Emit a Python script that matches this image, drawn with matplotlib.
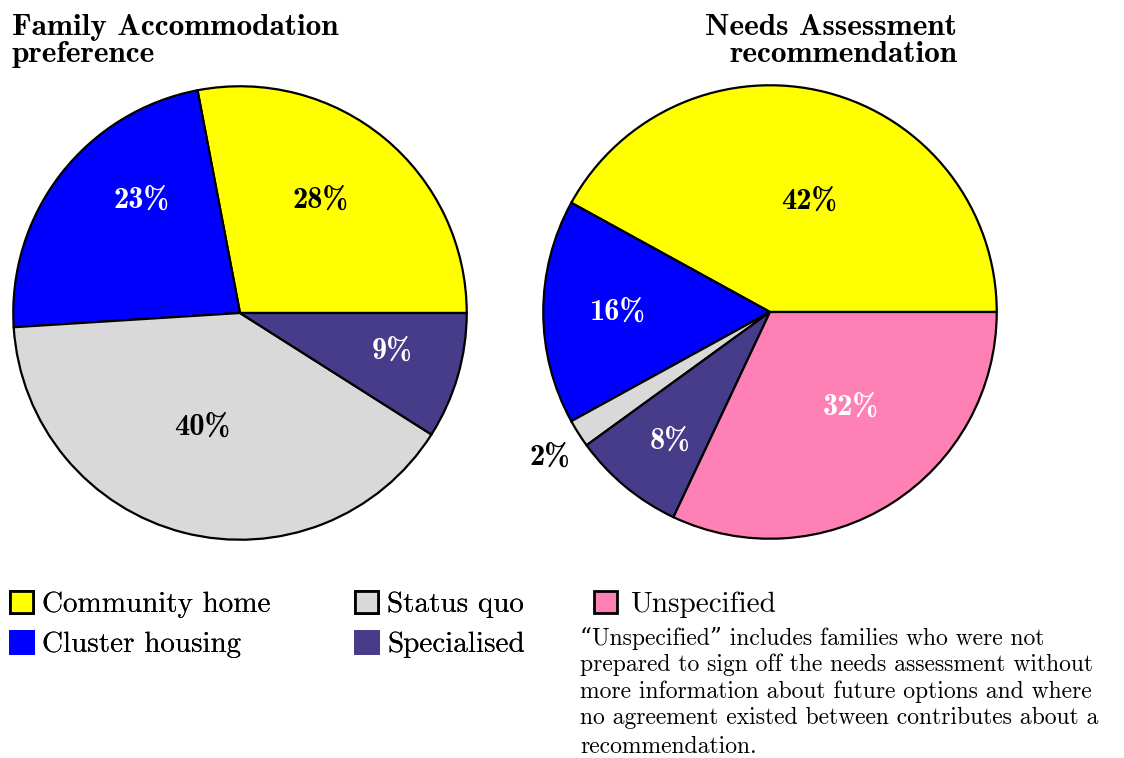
import numpy as np
import matplotlib
matplotlib.use("Agg")
import matplotlib.pyplot as plt
from matplotlib.patches import Patch

plt.rcParams["font.family"] = ["cmr10", "DejaVu Serif"]
plt.rcParams["axes.formatter.use_mathtext"] = True
plt.rcParams["mathtext.fontset"] = "cm"

# data
categories = ["Community home", "Cluster housing", "Status quo", "Specialised", "Unspecified"]
colors = {
    "Community home": "#FFFF00",
    "Cluster housing": "#0000FF",
    "Status quo": "#D9D9D9",
    "Specialised": "#463C8A",
    "Unspecified": "#FF80B4",
}
family_cats = ["Community home", "Cluster housing", "Status quo", "Specialised"]
family_vals = [28, 23, 40, 9]
needs_cats = ["Community home", "Cluster housing", "Status quo", "Specialised", "Unspecified"]
needs_vals = [42, 16, 2, 8, 32]

family_title = "Family Accommodation\npreference"
needs_title = "Needs Assessment\nrecommendation"
note = ("\u201cUnspecified\u201d includes families who were not\n"
        "prepared to sign off the needs assessment without\n"
        "more information about future options and where\n"
        "no agreement existed between contributes about a")
note_last = "recommendation."

# label colour, radial distance and angle nudge (deg) per wedge
label_color = {"Community home": "black", "Cluster housing": "white", "Status quo": "black",
               "Specialised": "white", "Unspecified": "white"}
family_dist = [0.61, 0.66, 0.53, 0.69]
family_nudge = [4, -11, -4, 2]
needs_dist = [0.52, 0.67, 1.165, 0.72, 0.55]
needs_nudge = [-5, 0, 1, 2, 8]

W, H = 1124, 758
fig = plt.figure(figsize=(W / 100, H / 100), dpi=100)


def draw_pie(rect, cats, vals, dists, nudges):
    ax = fig.add_axes(rect)
    wedges, _ = ax.pie(vals, colors=[colors[c] for c in cats], startangle=0, counterclock=True,
                       wedgeprops=dict(edgecolor="black", linewidth=1.6))
    for w, c, v, d, n in zip(wedges, cats, vals, dists, nudges):
        mid = np.deg2rad((w.theta1 + w.theta2) / 2 + n)
        col = label_color[c] if d < 1 else "black"
        ax.text(d * np.cos(mid), d * np.sin(mid), f"{v}%", ha="center", va="center",
                fontsize=22, family="cmb10", color=col, clip_on=False)
    ax.set_xlim(-1.01, 1.01)
    ax.set_ylim(-1.01, 1.01)
    ax.set_aspect("equal")
    ax.axis("off")
    return ax


draw_pie([11 / W, (H - 542) / H, 458 / W, 458 / H], family_cats, family_vals,
         family_dist, family_nudge)
draw_pie([541 / W, (H - 541) / H, 458 / W, 458 / H], needs_cats, needs_vals,
         needs_dist, needs_nudge)

fig.text(12 / W, 1 - 14 / H, family_title, ha="left", va="top", fontsize=22.5,
         family="cmb10", linespacing=1.0)
fig.text(957 / W, 1 - 14 / H, needs_title, ha="right", va="top", fontsize=22.5,
         family="cmb10", linespacing=1.0, multialignment="right")

edged = {"Community home", "Status quo", "Unspecified"}


def handle(c):
    ec = "black" if c in edged else colors[c]
    return Patch(facecolor=colors[c], edgecolor=ec, linewidth=2, label=c)


leg1 = fig.legend(handles=[handle(c) for c in categories[:4]], loc="upper left",
                  bbox_to_anchor=(10 / W, 1 - 591 / H), ncol=2, frameon=False, fontsize=21,
                  borderpad=0, handlelength=0.8, handleheight=0.8, handletextpad=0.3,
                  labelspacing=0.42, columnspacing=2.9, borderaxespad=0)
fig.add_artist(leg1)
fig.legend(handles=[handle("Unspecified")], loc="upper left",
           bbox_to_anchor=(594 / W, 1 - 591 / H), frameon=False, fontsize=21,
           borderpad=0, handlelength=0.8, handleheight=0.8, handletextpad=0.45,
           borderaxespad=0)

fig.text(580 / W, 1 - 627 / H, note, ha="left", va="top", fontsize=17, linespacing=1.22)
fig.text(580 / W, 1 - 736 / H, note_last, ha="left", va="top", fontsize=17)

fig.savefig("out.png", dpi=100, facecolor="white")
